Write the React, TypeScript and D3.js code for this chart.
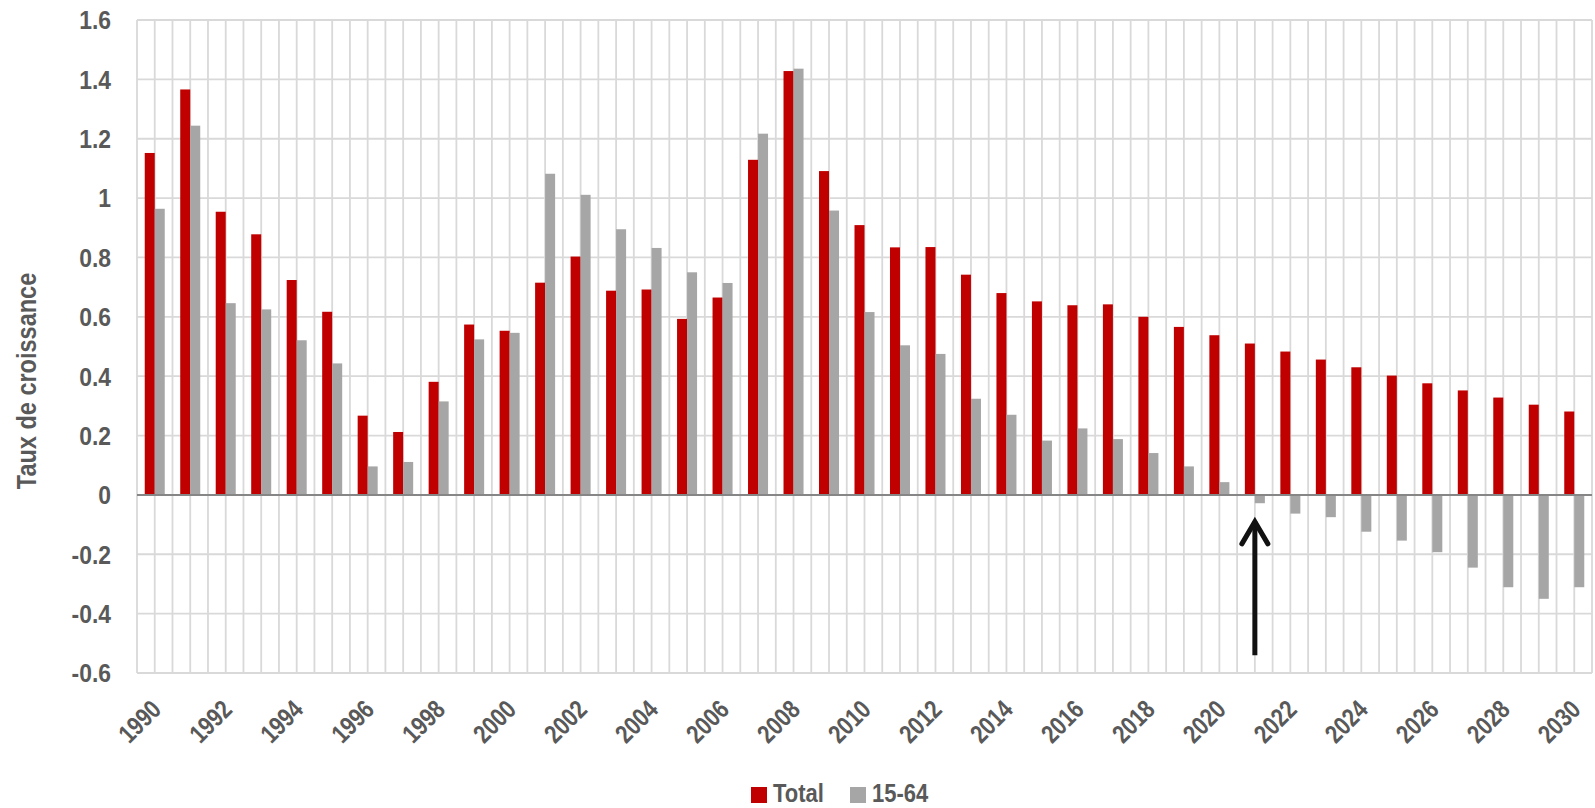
import { useRef, useEffect } from "react";
import * as d3 from "d3";

const W = 1595;
const H = 808;
const margin = { top: 20, right: 3, bottom: 135, left: 137 };
const FONT = "'Liberation Sans', Arial, sans-serif";
const TEXT = "#595959";
const NARROW = 0.84;

const years = d3.range(1990, 2031).map(String);
const total = [
  1.152, 1.366, 0.954, 0.878, 0.724, 0.617, 0.267, 0.212, 0.381, 0.574,
  0.553, 0.715, 0.803, 0.688, 0.692, 0.593, 0.665, 1.129, 1.428, 1.091,
  0.909, 0.834, 0.835, 0.742, 0.68, 0.652, 0.639, 0.642, 0.6, 0.566,
  0.538, 0.51, 0.483, 0.456, 0.43, 0.402, 0.376, 0.352, 0.328, 0.304, 0.281,
];
const age1564 = [
  0.964, 1.244, 0.646, 0.625, 0.521, 0.443, 0.096, 0.111, 0.315, 0.524,
  0.546, 1.082, 1.011, 0.895, 0.832, 0.75, 0.714, 1.217, 1.436, 0.958,
  0.616, 0.504, 0.475, 0.324, 0.27, 0.183, 0.224, 0.188, 0.141, 0.096,
  0.043, -0.028, -0.063, -0.075, -0.124, -0.154, -0.193, -0.245, -0.311, -0.35, -0.311,
];
const yTicks = [1.6, 1.4, 1.2, 1, 0.8, 0.6, 0.4, 0.2, 0, -0.2, -0.4, -0.6];
const seriesNames = ["Total", "15-64"];
const colors = ["#c00000", "#a6a6a6"];
const arrowYear = "2021";

function App() {
  const svgRef = useRef<SVGSVGElement>(null);

  useEffect(() => {
    const svg = d3.select(svgRef.current);
    svg.selectAll("*").remove();

    const innerW = W - margin.left - margin.right;
    const innerH = H - margin.top - margin.bottom;
    const pad = 0.436;

    const x = d3.scaleBand().domain(years).range([0, innerW]).paddingInner(pad).paddingOuter(pad / 2);
    const x1 = d3.scaleBand().domain(seriesNames).range([0, x.bandwidth()]);
    const y = d3.scaleLinear().domain([-0.6, 1.6]).range([innerH, 0]);
    const step = x.step();
    const center = (d: string) => (x(d) as number) + x.bandwidth() / 2;

    const g = svg.append("g").attr("transform", `translate(${margin.left},${margin.top})`);

    // vertical grid: category edges and centers
    const vLines: number[] = [];
    years.forEach((d, i) => {
      if (i === 0) vLines.push(center(d) - step / 2);
      vLines.push(center(d));
      vLines.push(center(d) + step / 2);
    });
    g.append("g")
      .selectAll("line")
      .data(vLines)
      .join("line")
      .attr("x1", (d) => d)
      .attr("x2", (d) => d)
      .attr("y1", 0)
      .attr("y2", innerH)
      .attr("stroke", "#d9d9d9")
      .attr("stroke-width", 1.8);

    g.append("g")
      .selectAll("line")
      .data(yTicks.filter((t) => t !== 0))
      .join("line")
      .attr("x1", 0)
      .attr("x2", innerW)
      .attr("y1", (d) => y(d))
      .attr("y2", (d) => y(d))
      .attr("stroke", "#d9d9d9")
      .attr("stroke-width", 1.8);

    // bars
    const seriesData = [total, age1564];
    seriesNames.forEach((name, si) => {
      g.append("g")
        .selectAll("rect")
        .data(seriesData[si])
        .join("rect")
        .attr("x", (_, i) => (x(years[i]) as number) + (x1(name) as number))
        .attr("width", x1.bandwidth())
        .attr("y", (d) => y(Math.max(0, d)))
        .attr("height", (d) => Math.abs(y(d) - y(0)))
        .attr("fill", colors[si]);
    });

    // zero line
    g.append("line")
      .attr("x1", 0)
      .attr("x2", innerW)
      .attr("y1", y(0))
      .attr("y2", y(0))
      .attr("stroke", "#868686")
      .attr("stroke-width", 2);

    // y tick labels
    g.append("g")
      .selectAll("text")
      .data(yTicks)
      .join("text")
      .attr("transform", (d) => `translate(-26,${y(d)}) scale(0.88,1)`)
      .attr("dy", "0.36em")
      .attr("text-anchor", "end")
      .style("font-family", FONT)
      .style("font-weight", "bold")
      .style("font-size", "26px")
      .attr("fill", TEXT)
      .text((d) => String(d));

    // x tick labels
    g.append("g")
      .selectAll("text")
      .data(years.filter((_, i) => i % 2 === 0))
      .join("text")
      .attr("transform", (d) => `translate(${center(d) + 8},${innerH + 38}) rotate(-45) scale(0.82,1)`)
      .attr("text-anchor", "end")
      .style("font-family", FONT)
      .style("font-weight", "bold")
      .style("font-size", "26px")
      .attr("fill", TEXT)
      .text((d) => d);

    // y axis title
    svg.append("text")
      .attr("transform", `translate(36,381) rotate(-90) scale(${NARROW},1)`)
      .attr("text-anchor", "middle")
      .style("font-family", FONT)
      .style("font-weight", "bold")
      .style("font-size", "28px")
      .attr("fill", TEXT)
      .text("Taux de croissance");

    // arrow
    const ax = center(arrowYear);
    const arrow = g.append("g").attr("stroke", "#111").attr("stroke-width", 5).attr("fill", "none");
    arrow.append("line").attr("x1", ax).attr("x2", ax).attr("y1", y(-0.54)).attr("y2", y(-0.09));
    arrow
      .append("path")
      .attr("d", `M${ax - 13},${y(-0.165)} L${ax},${y(-0.09)} L${ax + 13},${y(-0.165)}`)
      .attr("stroke-linecap", "round")
      .attr("stroke-linejoin", "miter");

    // legend
    const legend = svg.append("g").attr("transform", "translate(751,802)");
    const offsets = [0, 99];
    seriesNames.forEach((name, i) => {
      legend.append("rect").attr("x", offsets[i]).attr("y", -15).attr("width", 16).attr("height", 16).attr("fill", colors[i]);
      legend
        .append("text")
        .attr("transform", `translate(${offsets[i] + 22},0) scale(0.88,1)`)
        .style("font-family", FONT)
        .style("font-weight", "bold")
        .style("font-size", "25px")
        .attr("fill", TEXT)
        .text(name);
    });
  }, []);

  return (
    <svg
      ref={svgRef}
      width={W}
      height={H}
      style={{ position: "absolute", left: 0, top: 0, background: "#fff" }}
    />
  );
}

export default App;
